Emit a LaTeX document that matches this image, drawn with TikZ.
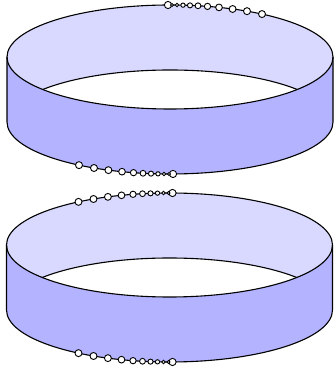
\documentclass[tikz,border=0pt]{standalone}
\usepackage{xcolor}
\definecolor{ringtop}{HTML}{D9D9FF}
\definecolor{ringside}{HTML}{B3B3FF}
\tikzset{
    ringline/.style={black, line width=1.1},
    bead/.style={circle, draw=black, fill=white, line width=0.9, inner sep=0pt, minimum size=#1},
}
% one string of beads along an ellipse: name, centre x, centre y, start offset, direction, up or down
\newcommand{\ringbeads}[6]{
    \foreach \beadid/\beadoff/\beadsize in {0/0/7.2, 1/4/3, 2/9/3.6, 3/15/4.3, 4/22/5.1, 5/30/5.8,
        6/39.5/6.3, 7/51/6.7, 8/64.6/6.9, 9/79/7, 10/94/7}{
        \pgfmathsetmacro{\beaddx}{#4+#5*\beadoff}
        \pgfmathsetmacro{\beady}{#3+#6*52*sqrt(1-(\beaddx/163)^2)}
        \node[bead=\beadsize] (#1\beadid) at ({#2+\beaddx},\beady) {};
    }
}
% one ring: centre x, top ellipse y, bottom ellipse y
\newcommand{\ringband}[3]{
    \fill[ringside] (#1-163,#2) -- (#1-163,#3) arc (180:360:163 and 52) -- (#1+163,#2) -- cycle;
    \fill[ringtop] (#1,#2) ellipse (163 and 52);
    \begin{scope}
        \clip (#1,#2) ellipse (163 and 52);
        \fill[white] (#1,#3) ellipse (163 and 52);
        \draw[ringline] (#1,#3) ellipse (163 and 52);
    \end{scope}
    \draw[ringline] (#1,#2) ellipse (163 and 52);
    \draw[ringline] (#1-163,#2) -- (#1-163,#3) arc (180:360:163 and 52) -- (#1+163,#2);
}

\begin{document}
\begin{tikzpicture}[x=1pt, y=1pt]
    \useasboundingbox (0,0) rectangle (333,371);

    % Upper ring
    \ringband{170}{314}{249}
    \ringbeads{upa}{170}{314}{-2}{1}{1}
    \ringbeads{upb}{170}{249}{3}{-1}{-1}

    % Lower ring
    \ringband{169.5}{126}{61}
    \ringbeads{loa}{169.5}{126}{3}{-1}{1}
    \ringbeads{lob}{169.5}{61}{3}{-1}{-1}

\end{tikzpicture}
\end{document}
